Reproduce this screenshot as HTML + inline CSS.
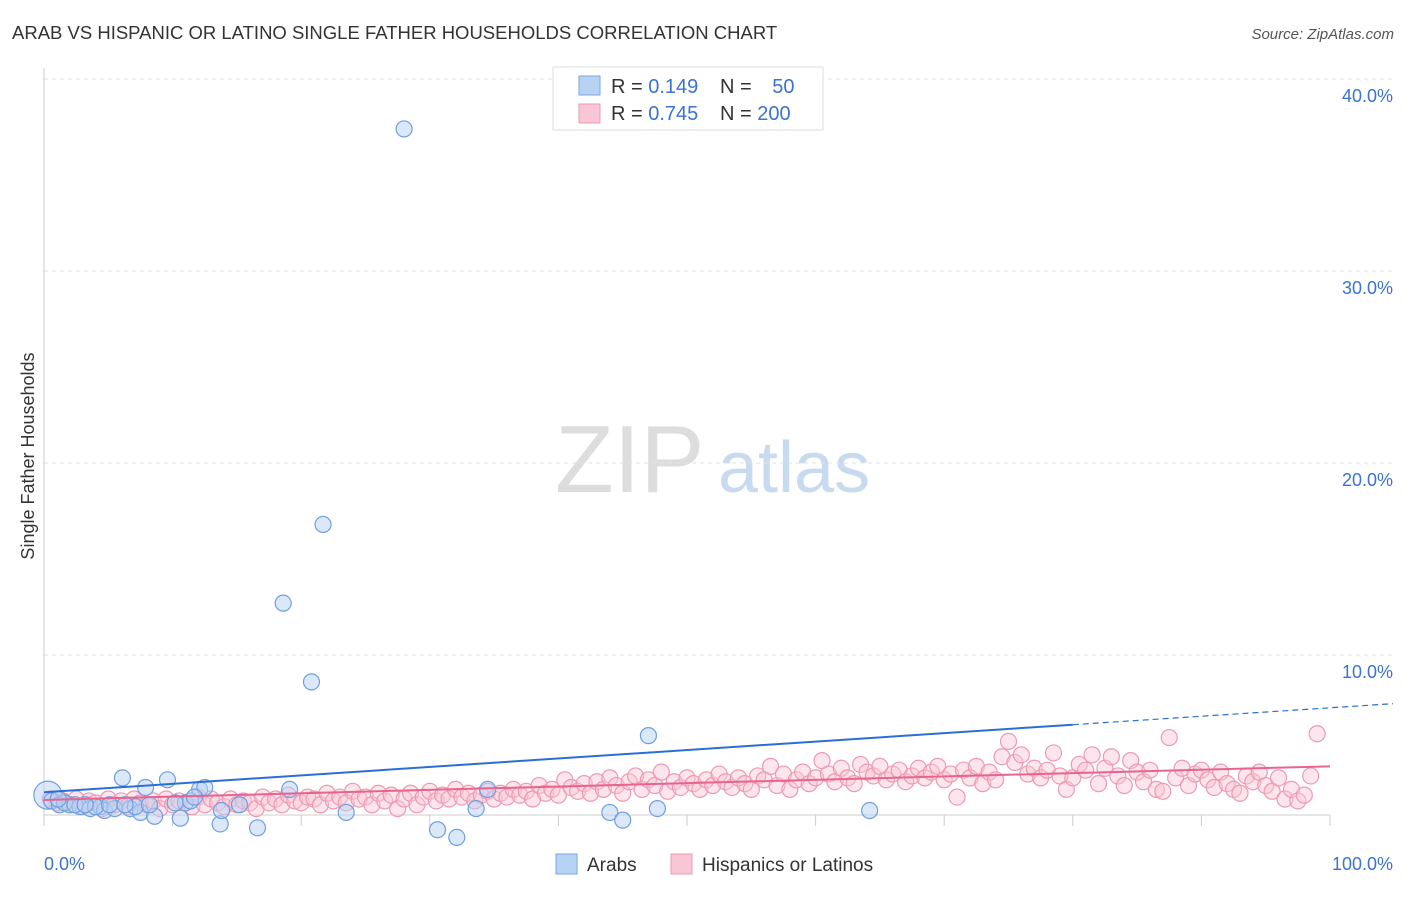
<!DOCTYPE html>
<html><head><meta charset="utf-8"><style>
body{margin:0;background:#fff;font-family:"Liberation Sans",sans-serif;}
svg text{font-family:"Liberation Sans",sans-serif;}
</style></head><body>
<svg id="chart" width="1406" height="892" xmlns="http://www.w3.org/2000/svg">
<text x="12" y="39" font-size="18.5" fill="#333">ARAB VS HISPANIC OR LATINO SINGLE FATHER HOUSEHOLDS CORRELATION CHART</text>
<text x="1394" y="39" font-size="15" fill="#555" font-style="italic" text-anchor="end">Source: ZipAtlas.com</text>
<text x="34" y="456" font-size="18" fill="#333" text-anchor="middle" transform="rotate(-90 34 456)">Single Father Households</text>
<text x="555" y="492" font-size="96" fill="#ddd" font-family="Liberation Serif">ZIP</text>
<text x="718" y="492" font-size="72" fill="#c8daf0">atlas</text>
<g id="grid"></g><g id="pts"></g><g id="lines"></g>
<g>
<rect x="553" y="67" width="270" height="63" fill="#fff" stroke="#ddd"/>
<rect x="579" y="76" width="21" height="19" fill="#b8d2f4" stroke="#7aa6e0"/>
<rect x="579" y="104" width="21" height="19" fill="#f8c6d5" stroke="#ee99b3"/>
<text x="611" y="93" font-size="20" fill="#333">R = <tspan fill="#3a73d0">0.149</tspan></text>
<text x="720" y="93" font-size="20" fill="#333">N = <tspan fill="#3a73d0" dx="15">50</tspan></text>
<text x="611" y="120" font-size="20" fill="#333">R = <tspan fill="#3a73d0">0.745</tspan></text>
<text x="720" y="120" font-size="20" fill="#333">N = <tspan fill="#3a73d0">200</tspan></text>
</g>
<g>
<rect x="556" y="854" width="21" height="20" fill="#b8d2f4" stroke="#7aa6e0"/>
<text x="587" y="871" font-size="19" fill="#333">Arabs</text>
<rect x="671" y="854" width="21" height="20" fill="#f8c6d5" stroke="#ee99b3"/>
<text x="702" y="871" font-size="19" fill="#333">Hispanics or Latinos</text>
</g>
</svg>
<script>
const yTicks=[10,20,30,40];
const xTickLabels=["0.0%","100.0%"];
const arabX=[0.3,0.6,1.2,2,2.8,3.6,4.4,4.7,5.5,6.1,6.7,7.5,7.9,8.6,9.6,10.6,11,12.1,12.5,13.7,13.8,15.2,16.6,18.6,19.1,20.8,21.7,23.5,28,30.6,32.1,33.6,34.5,44,45,47,47.7,64.2,4,5.1,7.1,8.2,10.2,11.4,11.7,1.6,2.4,3.2,1.1,6.3];
const arabY=[2.7,2.4,2.2,2.2,2.1,2.0,2.1,1.9,2.0,3.6,2.0,1.8,3.1,1.6,3.5,1.5,2.3,3.0,3.1,1.2,1.9,2.2,1.0,12.7,3.0,8.6,16.8,1.8,37.4,0.9,0.5,2.0,3.0,1.8,1.4,5.8,2.0,1.9,2.1,2.2,2.1,2.2,2.3,2.4,2.6,2.3,2.2,2.2,2.5,2.2];
const hispX=[0.5,1,1.5,2,2.5,3,3.5,4,4.5,5,5.5,6,6.5,7,7.5,8,8.5,9,9.5,10,10.5,11,11.5,12,12.5,13,13.5,14,14.5,15,15.5,16,16.5,17,17.5,18,18.5,19,19.5,20,20.5,21,21.5,22,22.5,23,23.5,24,24.5,25,25.5,26,26.5,27,27.5,28,28.5,29,29.5,30,30.5,31,31.5,32,32.5,33,33.5,34,34.5,35,35.5,36,36.5,37,37.5,38,38.5,39,39.5,40,40.5,41,41.5,42,42.5,43,43.5,44,44.5,45,45.5,46,46.5,47,47.5,48,48.5,49,49.5,50,50.5,51,51.5,52,52.5,53,53.5,54,54.5,55,55.5,56,56.5,57,57.5,58,58.5,59,59.5,60,60.5,61,61.5,62,62.5,63,63.5,64,64.5,65,65.5,66,66.5,67,67.5,68,68.5,69,69.5,70,70.5,71,71.5,72,72.5,73,73.5,74,74.5,75,75.5,76,76.5,77,77.5,78,78.5,79,79.5,80,80.5,81,81.5,82,82.5,83,83.5,84,84.5,85,85.5,86,86.5,87,87.5,88,88.5,89,89.5,90,90.5,91,91.5,92,92.5,93,93.5,94,94.5,95,95.5,96,96.5,97,97.5,98,98.5,99,99.5,100];
const hispY=[2.5,2.3,2.4,2.2,2.5,2.1,2.4,2.3,2.0,2.5,2.2,2.4,2.1,2.5,2.3,2.2,2.4,2.0,2.5,2.2,2.4,2.3,2.1,2.6,2.2,2.5,2.3,2.1,2.5,2.2,2.4,2.3,2.0,2.6,2.3,2.5,2.2,2.7,2.4,2.3,2.6,2.5,2.2,2.8,2.4,2.6,2.3,2.9,2.5,2.6,2.2,2.8,2.4,2.7,2.0,2.5,2.8,2.2,2.6,2.9,2.4,2.7,2.5,3.0,2.6,2.8,2.4,2.7,2.9,2.5,2.8,2.6,3.0,2.7,2.9,2.5,3.2,2.8,3.0,2.7,3.5,3.1,2.9,3.3,2.8,3.4,3.0,3.6,3.2,2.8,3.4,3.7,3.0,3.5,3.2,3.9,2.9,3.4,3.1,3.6,3.3,3.0,3.5,3.2,3.8,3.4,3.1,3.6,3.3,3.0,3.7,3.5,4.2,3.2,3.8,3.0,3.5,3.9,3.3,3.6,4.5,3.8,3.4,4.1,3.6,3.3,4.3,3.9,3.7,4.2,3.5,3.8,4.0,3.4,3.7,4.1,3.6,3.9,4.2,3.5,3.8,2.6,4.0,3.6,4.2,3.3,3.9,3.5,4.7,5.5,4.4,4.8,3.8,4.1,3.6,4.0,4.9,3.7,3.0,3.6,4.3,4.0,4.8,3.3,4.1,4.7,3.7,3.2,4.5,3.9,3.4,4.0,3.0,2.9,5.7,3.6,4.1,3.2,3.8,4.0,3.5,3.1,3.9,3.3,3.0,2.8,3.7,3.4,3.9,3.2,2.9,3.6,2.5,3.0,2.4,2.7,3.7,5.9];
const NS="http://www.w3.org/2000/svg";
const X0=44,X1=1330,Y0=847,PY=19.2;
const xs=v=>X0+(X1-X0)*v/100, ys=v=>Y0-PY*v;
function mk(t,a,p){const e=document.createElementNS(NS,t);for(const k in a)e.setAttribute(k,a[k]);p.appendChild(e);return e;}
const g=document.getElementById('grid');
yTicks.forEach(t=>{const l=mk('line',{x1:44,x2:1393,y1:ys(t),y2:ys(t),stroke:'#e2e2e2','stroke-dasharray':'4,4'},g);


const tx=mk('text',{x:1393,y:ys(t)+23,'font-size':18,fill:'#3a73d0','text-anchor':'end'},g);tx.textContent=t.toFixed(1)+'%';

});
mk('line',{x1:44,x2:44,y1:68,y2:815,stroke:'#ccc'},g);
mk('line',{x1:44,x2:1330,y1:815,y2:815,stroke:'#ccc'},g);
for(let i=0;i<=10;i++){const t=mk('line',{x1:xs(i*10),x2:xs(i*10),y1:815,y2:826,stroke:'#ccc'},g);

}
const l0=mk('text',{x:44,y:870,'font-size':18,fill:'#3a73d0'},g);l0.textContent=xTickLabels[0];


const l1=mk('text',{x:1393,y:870,'font-size':18,fill:'#3a73d0','text-anchor':'end'},g);l1.textContent=xTickLabels[1];


const p=document.getElementById('pts');
const nH=Math.min(hispX.length,hispY.length);
for(let i=0;i<nH;i++){const c=mk('circle',{cx:xs(hispX[i]),cy:ys(hispY[i]),r:8,fill:'rgba(248,198,213,0.45)',stroke:'#ee99b3','stroke-width':1.2},p);

}
arabX.forEach((x,i)=>{const c=mk('circle',{cx:xs(x),cy:ys(arabY[i]),r:i==0?14:8,fill:'rgba(184,210,244,0.5)',stroke:'#6f9fe0','stroke-width':1.2},p);

});
const L=document.getElementById('lines');
const ha=2.45,hb=0.0175;
const hl=mk('line',{x1:xs(0),y1:ys(ha),x2:xs(100),y2:ys(ha+hb*100),stroke:'#e8648e','stroke-width':2},L);


const aa=2.85,ab=0.044;
const al=mk('line',{x1:xs(0),y1:ys(aa),x2:xs(80),y2:ys(aa+ab*80),stroke:'#2a6fd6','stroke-width':2},L);


const ad=mk('line',{x1:xs(80),y1:ys(aa+ab*80),x2:1393,y2:ys(aa+ab*((1393-44)/12.86)),stroke:'#2a6fd6','stroke-width':1.2,'stroke-dasharray':'6,4'},L);


</script>
</body></html>
